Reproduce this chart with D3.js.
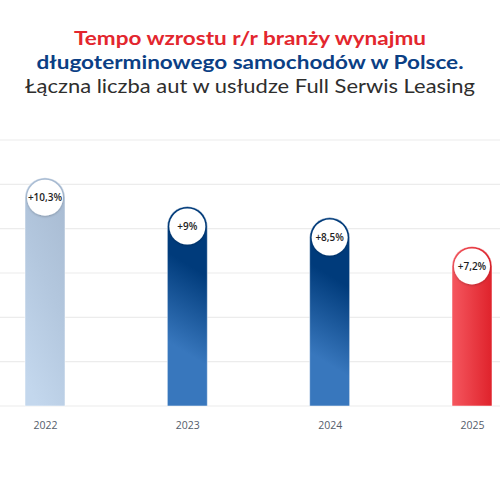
<!DOCTYPE html>
<html>
<head>
<meta charset="utf-8">
<script src="https://cdn.jsdelivr.net/npm/d3@7"></script>
<style>
html,body{margin:0;padding:0;background:#fff;}
svg{display:block;}
</style>
</head>
<body>
<svg id="chart" width="500" height="500"></svg>
<script>
const years = ["2022", "2023", "2024", "2025"];
const growth = [10.3, 9, 8.5, 7.2];
const growthLabels = ["+10,3%", "+9%", "+8,5%", "+7,2%"];
const gridTicks = [0, 2, 4, 6, 8, 10, 12];
const titleLines = [
  "Tempo wzrostu r/r branży wynajmu",
  "długoterminowego samochodów w Polsce.",
  "Łączna liczba aut w usłudze Full Serwis Leasing"
];

const svg = d3.select("#chart");
const W = 500, H = 500;

const x = d3.scalePoint().domain(years).range([45, 472]);
const y = d3.scaleLinear().domain([0, 12]).range([406, 140]);
const barW = 40;

const defs = svg.append("defs");
const g1 = defs.append("linearGradient").attr("id", "gLight")
  .attr("x1", 0.7).attr("y1", 0).attr("x2", 0.3).attr("y2", 1);
g1.append("stop").attr("offset", 0).attr("stop-color", "#a9bcd3");
g1.append("stop").attr("offset", 0.45).attr("stop-color", "#b3c7de");
g1.append("stop").attr("offset", 1).attr("stop-color", "#c3d7ed");

// per-bar diagonal blue gradients in user space
years.forEach((yr, i) => {
  if (i === 1 || i === 2) {
    const top = y(growth[i]);
    const g = defs.append("linearGradient").attr("id", "gBlue" + i)
      .attr("gradientUnits", "userSpaceOnUse")
      .attr("x1", x(yr) + barW / 2).attr("y1", top + 70)
      .attr("x2", x(yr) - barW / 2).attr("y2", top + 135);
    g.append("stop").attr("offset", 0).attr("stop-color", "#003b7b");
    g.append("stop").attr("offset", 1).attr("stop-color", "#3877bd");
  }
});

const g3 = defs.append("linearGradient").attr("id", "gRed")
  .attr("x1", 0).attr("y1", 0).attr("x2", 1).attr("y2", 0);
g3.append("stop").attr("offset", 0).attr("stop-color", "#f5575f");
g3.append("stop").attr("offset", 1).attr("stop-color", "#df222b");

const shadow = defs.append("filter").attr("id", "sh").attr("x", "-30%").attr("y", "-30%").attr("width", "160%").attr("height", "160%");
shadow.append("feDropShadow").attr("dx", 0).attr("dy", 1).attr("stdDeviation", 1.2).attr("flood-color", "#000").attr("flood-opacity", 0.22);

const fills = ["url(#gLight)", "url(#gBlue1)", "url(#gBlue2)", "url(#gRed)"];

// title
const tf = "Lato, 'Open Sans', sans-serif";
const titleSpec = [
  {y: 45, w: 700, c: "#e3262e", len: 352},
  {y: 69, w: 700, c: "#0b3f85", len: 427},
  {y: 93, w: 400, c: "#2e2e2e", len: 450}
];
svg.append("g").selectAll("text").data(titleLines).join("text")
  .attr("x", 250).attr("y", (d, i) => titleSpec[i].y)
  .attr("text-anchor", "middle")
  .attr("font-family", tf)
  .attr("font-weight", (d, i) => titleSpec[i].w)
  .attr("font-size", 19)
  .attr("fill", (d, i) => titleSpec[i].c)
  .attr("textLength", (d, i) => titleSpec[i].len)
  .attr("lengthAdjust", "spacingAndGlyphs")
  .text(d => d);

// grid
svg.append("g").selectAll("line").data(gridTicks).join("line")
  .attr("x1", 0).attr("x2", W)
  .attr("y1", d => y(d)).attr("y2", d => y(d))
  .attr("stroke", "#ececec").attr("stroke-width", 1.2);

// bars
const bars = svg.append("g").selectAll("g").data(years).join("g");
bars.append("path")
  .attr("d", (d, i) => {
    const x0 = x(d) - barW / 2, x1 = x(d) + barW / 2;
    const top = y(growth[i]), bot = y(0);
    const r = barW / 2;
    return `M${x0},${bot} L${x0},${top + r} A${r},${r} 0 0 1 ${x1},${top + r} L${x1},${bot} Z`;
  })
  .attr("fill", (d, i) => fills[i])
  .attr("stroke", "#ffffff").attr("stroke-opacity", 0.5).attr("stroke-width", 1);

bars.append("circle")
  .attr("cx", d => x(d))
  .attr("cy", (d, i) => y(growth[i]) + barW / 2)
  .attr("r", 18)
  .attr("fill", "#fff")
  .attr("filter", "url(#sh)");

bars.append("text")
  .attr("x", d => x(d))
  .attr("y", (d, i) => y(growth[i]) + barW / 2 + 3.5)
  .attr("text-anchor", "middle")
  .attr("font-family", "'Open Sans', sans-serif")
  .attr("font-weight", 600)
  .attr("font-size", 10)
  .attr("fill", "#1e1e1e")
  .text((d, i) => growthLabels[i]);

// x axis labels
const xAxis = d3.axisBottom(x).tickSize(0).tickPadding(16);
const ax = svg.append("g").attr("transform", `translate(0,${y(0)})`).call(xAxis);
ax.select(".domain").remove();
ax.selectAll("text")
  .attr("font-family", "'Open Sans', sans-serif")
  .attr("font-size", 10.5)
  .attr("fill", "#555d6b");
</script>
</body>
</html>
